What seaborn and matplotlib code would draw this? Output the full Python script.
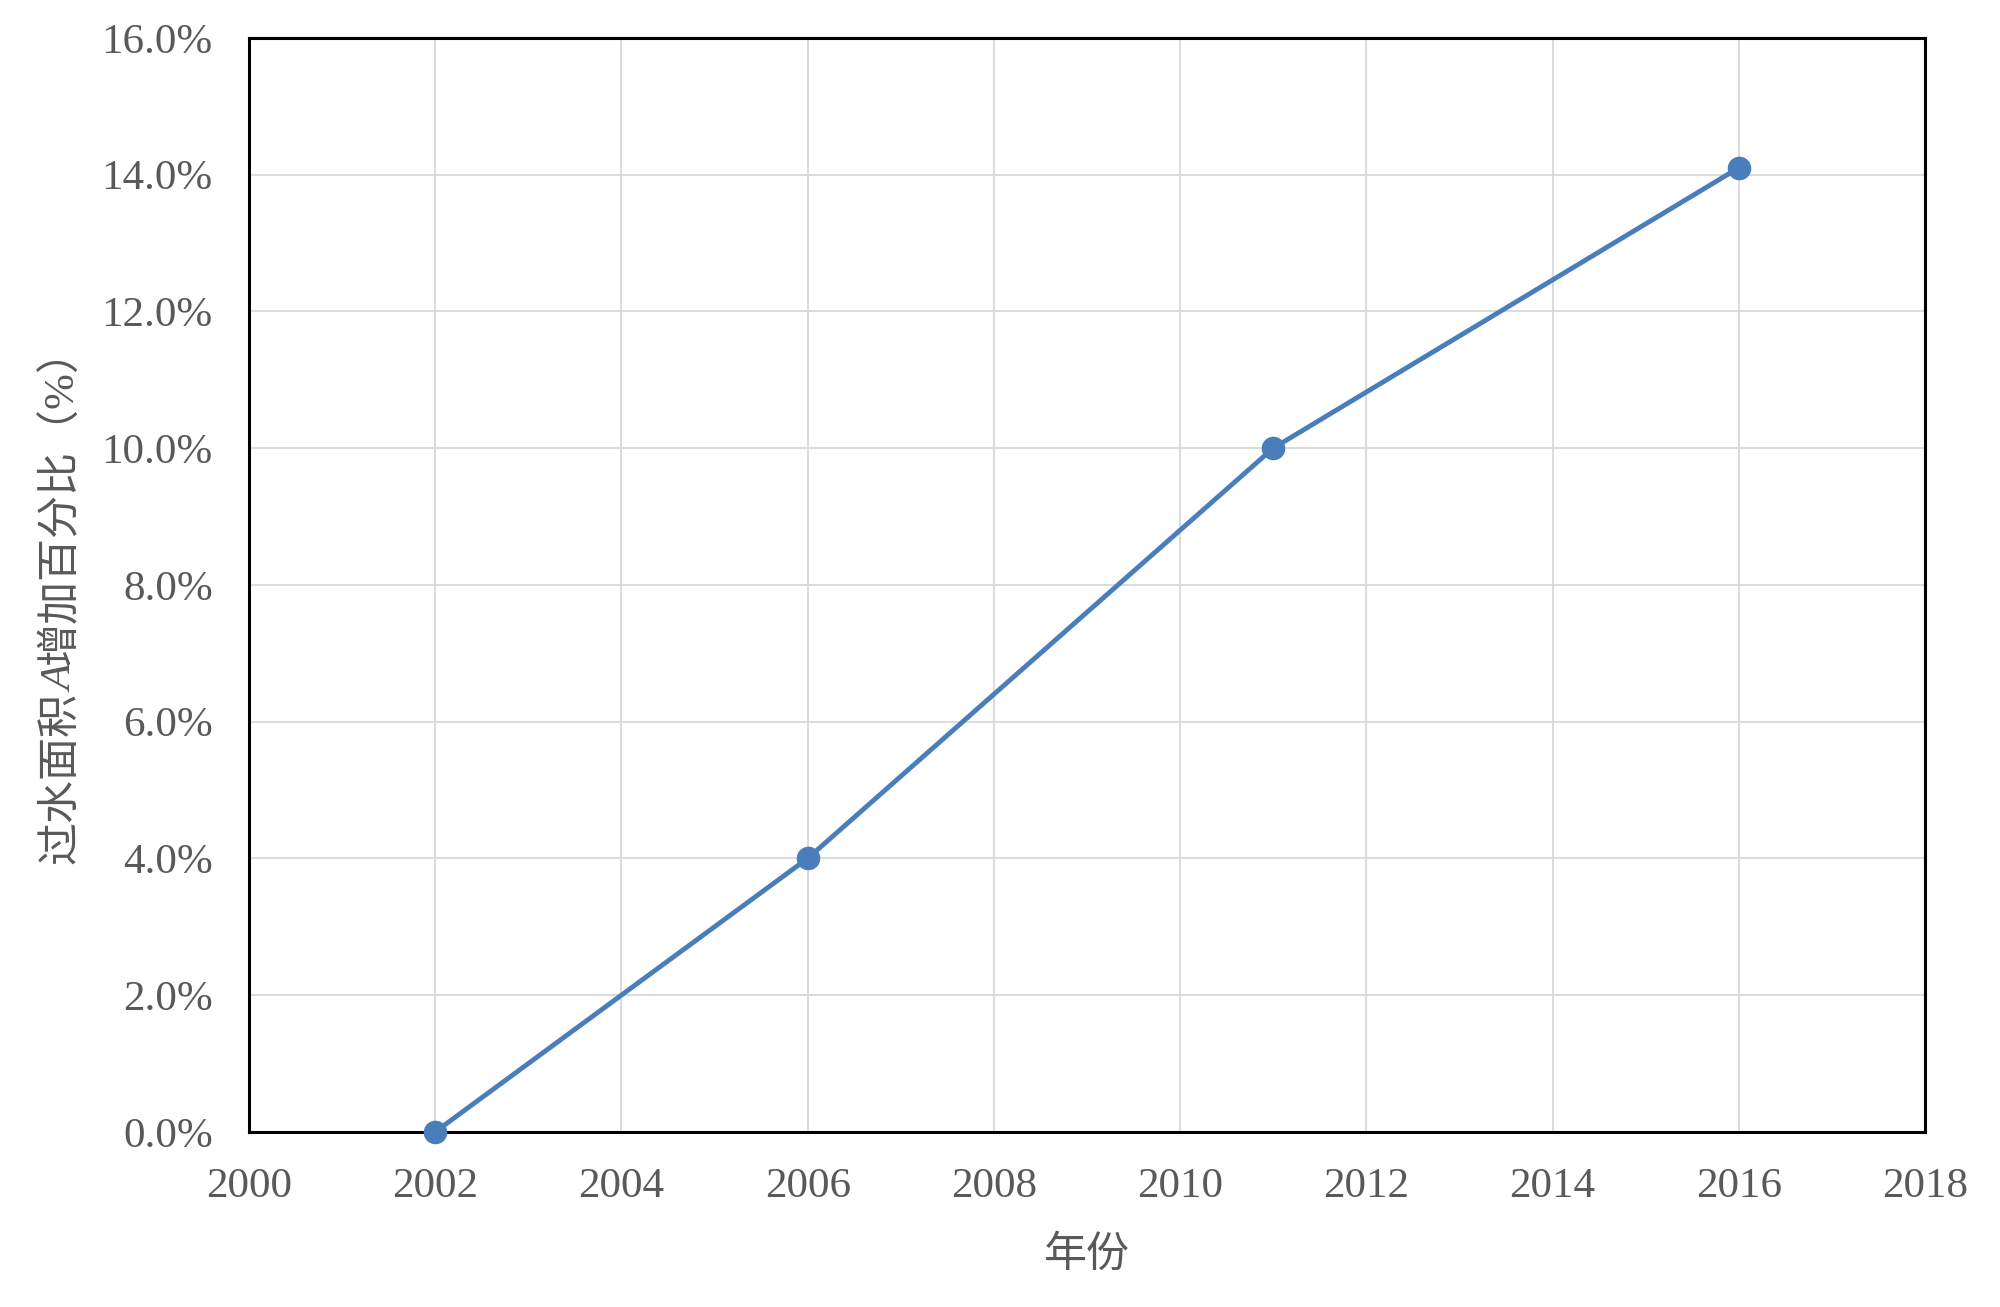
import matplotlib
matplotlib.use("Agg")
import matplotlib.pyplot as plt
import seaborn as sns
import pandas as pd
from matplotlib.ticker import FuncFormatter, MultipleLocator

years = [2002, 2006, 2011, 2016]
increase_pct = [0.0, 4.0, 10.0, 14.1]
x_label = "年份"
y_label_parts = ["过水面积", "A", "增加百分比（%）"]

sns.set_theme(style="white")
FAM = ['Liberation Serif', 'Noto Sans CJK SC', 'DejaVu Sans']
plt.rcParams['font.family'] = FAM

df = pd.DataFrame({"year": years, "pct": increase_pct})

W, H = 2000, 1307
fig = plt.figure(figsize=(W / 100, H / 100), dpi=100)
ax = fig.add_axes([0.1245, 0.134, 0.838, 0.837])

sns.lineplot(data=df, x="year", y="pct", ax=ax, color="#4a7ebb", linewidth=3.5,
             marker="o", markersize=17, markeredgewidth=0, markerfacecolor="#4a7ebb")
for ln in ax.lines:
    ln.set_linewidth(3.5)
    ln.set_markersize(17)
    ln.set_markeredgewidth(0)
    ln.set_clip_on(False)
    ln.set_zorder(5)

ax.set_xlim(2000, 2018)
ax.set_ylim(0, 16)
ax.xaxis.set_major_locator(MultipleLocator(2))
ax.yaxis.set_major_locator(MultipleLocator(2))
ax.yaxis.set_major_formatter(FuncFormatter(lambda v, p: f"{v:.1f}%"))
ax.grid(True, color="#d9d9d9", linewidth=1.3)
ax.set_axisbelow(True)
for s in ax.spines.values():
    s.set_color("black")
    s.set_linewidth(2.2)
    s.set_visible(True)
    s.set_zorder(2.5)
ax.tick_params(axis="both", length=0, labelsize=31, labelcolor="#595959")
ax.tick_params(axis="x", pad=26)
ax.tick_params(axis="y", pad=26)

ax.set_xlabel(x_label, fontsize=31, color="#595959", labelpad=22)
ax.set_ylabel("")

# y label composed of pieces (italic A)
texts = []
for part in y_label_parts:
    style = "italic" if part == "A" else "normal"
    t = fig.text(0, 0, part, rotation=90, rotation_mode="anchor", ha="left", va="center",
                 fontsize=31, color="#595959", family=FAM, style=style)
    texts.append(t)
fig.canvas.draw()
r = fig.canvas.get_renderer()
heights = [t.get_window_extent(r).height for t in texts]
total = sum(heights)
xc, yc = 62, H - 596
y = yc - total / 2
for t, h in zip(texts, heights):
    t.set_position((xc / W, y / H))
    y += h

fig.savefig("out.png", dpi=100, facecolor="white")
